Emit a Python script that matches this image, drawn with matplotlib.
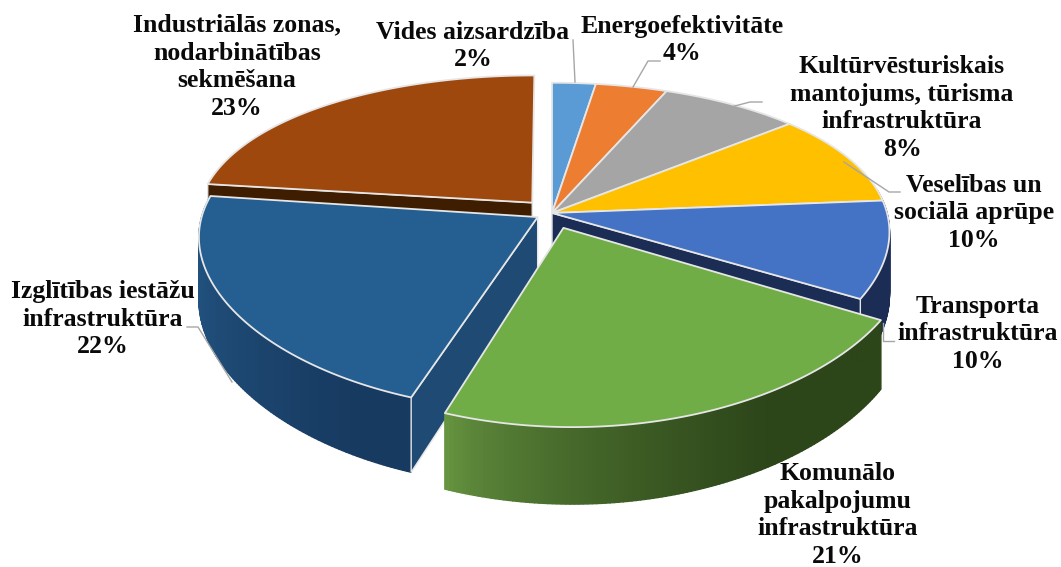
import numpy as np
import matplotlib
matplotlib.use('Agg')
from matplotlib import pyplot as plt
from matplotlib.colors import to_rgb
from matplotlib.patches import Polygon

labels = ['Vides aizsardzība', 'Energoefektivitāte',
          'Kultūrvēsturiskais\nmantojums, tūrisma\ninfrastruktūra',
          'Veselības un\nsociālā aprūpe', 'Transporta\ninfrastruktūra',
          'Komunālo\npakalpojumu\ninfrastruktūra', 'Izglītības iestāžu\ninfrastruktūra',
          'Industriālās zonas,\nnodarbinātības\nsekmēšana']
values = [2.3, 3.8, 7.5, 9.7, 9.5, 21.4, 21.5, 22.6]
explode = [0, 0, 0, 0, 0, 0.10, 0.05, 0.09]
spin = [0, 0, 0, 0, 0, 1, 0.7, 0]  # degrees, the pulled out slices sit slightly turned
rim_shift = [0, 0, 0, 0, 0, 0.02, 0, 0]
top_colors = ['#5b9bd5', '#ed7d31', '#a5a5a5', '#ffc000', '#4472c4', '#70ad47', '#255e91', '#9e480e']
wall_left = ['#3d6f9e', '#a85820', '#777777', '#b58900', '#1b2d55', '#6a9a43', '#21527f', '#43200a']
wall_right = ['#3d6f9e', '#a85820', '#777777', '#b58900', '#1b2d55', '#2c4519', '#173a60', '#3f1d00']
side_colors = ['#3d6f9e', '#a85820', '#777777', '#b58900', '#1b2d55', '#2c4519', '#1f4a73', '#3f1d00']

label_pos = [(473, 46), (682, 40), (902, 108), (974, 213), (978, 334), (838, 515), (103, 319), (237, 67)]
leaders = [[(573, 40), (575, 82)],
           [(660, 61), (648, 61), (633, 87)],
           [(762, 102), (750, 102), (731, 107)],
           [(900, 192), (889, 192), (844, 162)],
           [(894, 341), (883, 341), (883, 323)],
           [],
           [(187, 327), (198, 327), (232, 382)],
           []]

cx, cy = 552, 213
rx, ry = 335, 155
persp_x = 0.12
persp_y = 0.19
wall_h = 61


def project(x, d, drop=0.0):
    # x to the right, d towards the viewer, both in pie radii
    sx = 1 / (1 - persp_x * d)
    sy = 1 / (1 - persp_y * d)
    return cx + rx * x * sx, cy + ry * d * sy + drop * wall_h * sy


def slice_points(i, a0, a1, n=120):
    mid = (a0 + a1) / 2
    ox, od = explode[i] * np.sin(mid), -explode[i] * np.cos(mid)
    th = np.linspace(a0, a1, n)
    return ox, od, ox + rim_shift[i] + np.sin(th), od - np.cos(th)


def wall_color(i, t):
    c0, c1 = np.array(to_rgb(wall_left[i])), np.array(to_rgb(wall_right[i]))
    return c0 + (c1 - c0) * t


def radial_wall(i, ox, od, x, d):
    p = [project(ox, od), project(x, d), project(x, d, 1), project(ox, od, 1)]
    ax.add_patch(Polygon(p, closed=True, fc=side_colors[i], ec=edge_col, lw=1.0))


fracs = np.array(values) / sum(values)
edges = np.concatenate([[0], np.cumsum(fracs)]) * 2 * np.pi

fig = plt.figure(figsize=(10.61, 5.67), dpi=100)
ax = fig.add_axes([0, 0, 1, 1])
ax.set_xlim(0, 1061)
ax.set_ylim(567, 0)
ax.axis('off')

edge_col = '#e6e6e6'
# back slices first, the exploded ones sit in front of them
for i in [0, 1, 2, 3, 4, 7, 6, 5]:
    a0, a1 = edges[i] + np.radians(spin[i]), edges[i + 1] + np.radians(spin[i])
    ox, od, xs, ds = slice_points(i, a0, a1)

    # outer wall with gradient along the rim
    px, _ = project(xs, ds)
    lo, hi = px.min(), px.max()
    for k in range(len(xs) - 1):
        if ds[k] < -0.15 and ds[k + 1] < -0.15:
            continue
        p = [project(xs[k], ds[k]), project(xs[k + 1], ds[k + 1]),
             project(xs[k + 1], ds[k + 1], 1), project(xs[k], ds[k], 1)]
        t = min(1, ((px[k] - lo) / (hi - lo)) / 0.75) ** 0.6
        col = wall_color(i, t)
        ax.add_patch(Polygon(p, closed=True, fc=col, ec=col, lw=1.0))

    # only the radial wall that faces the viewer
    if np.sin(a1) > 0 and i < 5:
        radial_wall(i, ox, od, xs[-1], ds[-1])
    if np.sin(a0) < 0:
        radial_wall(i, ox, od, xs[0], ds[0])

    # top face
    top = [project(ox, od)] + [project(a, b) for a, b in zip(xs, ds)]
    ax.add_patch(Polygon(top, closed=True, fc=top_colors[i], ec=edge_col, lw=1.3, joinstyle='round'))

for line in leaders:
    if line:
        ax.plot([p[0] for p in line], [p[1] for p in line], color='#a6a6a6', lw=1.0)

for lab, v, pos in zip(labels, values, label_pos):
    ax.text(pos[0], pos[1], '%s\n%.0f%%' % (lab, v), ha='center', va='center',
            family=['Liberation Serif', 'DejaVu Serif'], fontweight='bold',
            fontsize=18.5, linespacing=1.27, color='#0a0a0a')

fig.savefig('out.png', dpi=100)
